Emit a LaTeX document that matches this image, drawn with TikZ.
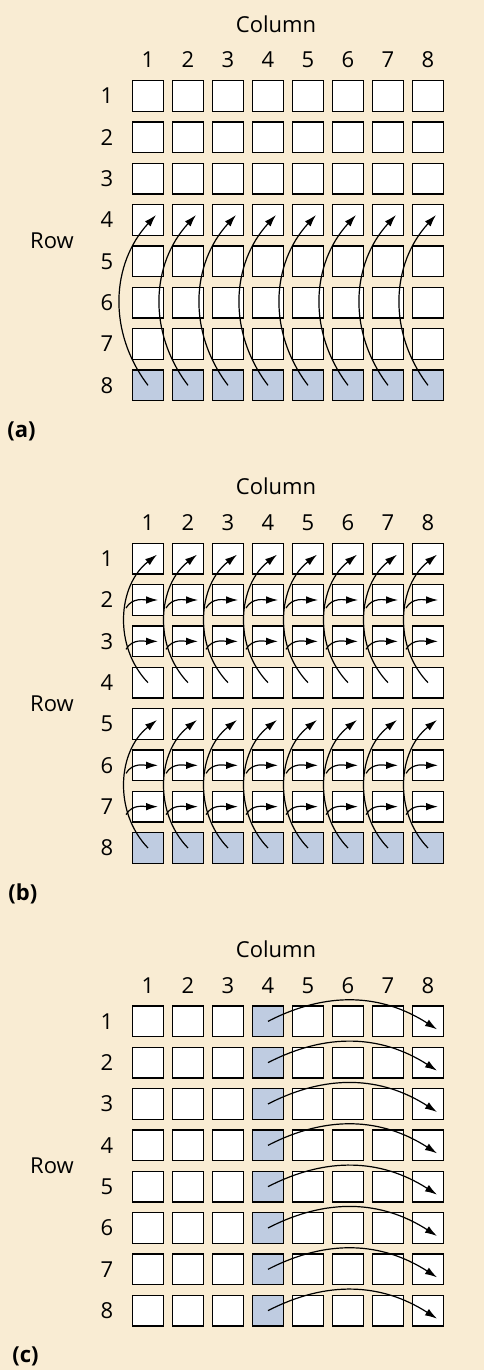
\documentclass[tikz,border=0pt]{standalone}
\usepackage{fontspec}
\setmainfont{Open Sans}
\usetikzlibrary{arrows.meta}
\definecolor{paper}{RGB}{249,236,211}
\definecolor{cellblue}{RGB}{191,204,225}

\begin{document}
\begin{tikzpicture}[x=0.5pt,y=0.5pt,>={Latex[length=6pt,width=3.8pt]}]
	\tikzstyle{cell} = [draw, shape=rectangle, minimum size=15.3pt, inner sep=0pt, line width=0.75pt, fill=white]
	\tikzstyle{hit} = [cell, fill=cellblue]
	\tikzstyle{lbl} = [font=\fontsize{11}{13}\selectfont, inner sep=0pt]
	\tikzstyle{tag} = [font=\fontsize{11}{13}\selectfont\bfseries, inner sep=0pt, anchor=west]
	\tikzstyle{flow} = [->, line width=0.6pt]
	%Background and page size
	\fill[paper] (0,0) rectangle (484,-1370);
	\useasboundingbox (0,0) rectangle (484,-1370);
	%Creating the three grids
	\foreach \p/\top/\br/\bc/\tx in {a/-96/8/0/7, b/-558.67/8/0/8, c/-1021.33/0/4/12} {
		\node[lbl] (\p-column) at (276,\top+72) {Column};
		\node[lbl] (\p-row) at (52,\top-144.67) {Row};
		\node[tag] (\p-tag) at (\tx,\top-335) {(\p)};
		\foreach \c in {1,...,8}
			\node[lbl] (\p-c\c) at ({148+40*(\c-1)},\top+36) {\c};
		\foreach \r in {1,...,8} {
			\node[lbl] (\p-r\r) at (107,{\top-41.33*(\r-1)}) {\r};
			\foreach \c in {1,...,8} {
				\ifnum\r=\br \def\look{hit}\else\ifnum\c=\bc \def\look{hit}\else\def\look{cell}\fi\fi
				\node[\look] (\p-\r-\c) at ({148+40*(\c-1)},{\top-41.33*(\r-1)}) {};
			}
		}
	}
	%Arrows of grid (a)
	\foreach \c in {1,...,8}
		\draw[flow] (a-8-\c.center) to[bend left=40] ([shift={(8,5)}]a-4-\c.center);
	%Arrows of grid (b)
	\foreach \c in {1,...,8} {
		\draw[flow] (b-4-\c.center) to[bend left=48] ([shift={(9,4)}]b-1-\c.center);
		\draw[flow] (b-8-\c.center) to[bend left=48] ([shift={(9,4)}]b-5-\c.center);
		\foreach \r in {2,3,6,7}
			\draw[flow] ([shift={(-22,-8)}]b-\r-\c.center) to[out=60,in=180] ([shift={(10,0)}]b-\r-\c.center);
	}
	%Arrows of grid (c)
	\foreach \r in {1,...,8}
		\draw[flow] (c-\r-4.center) to[bend left=30] ([shift={(9,-8)}]c-\r-8.center);
\end{tikzpicture}
\end{document}
